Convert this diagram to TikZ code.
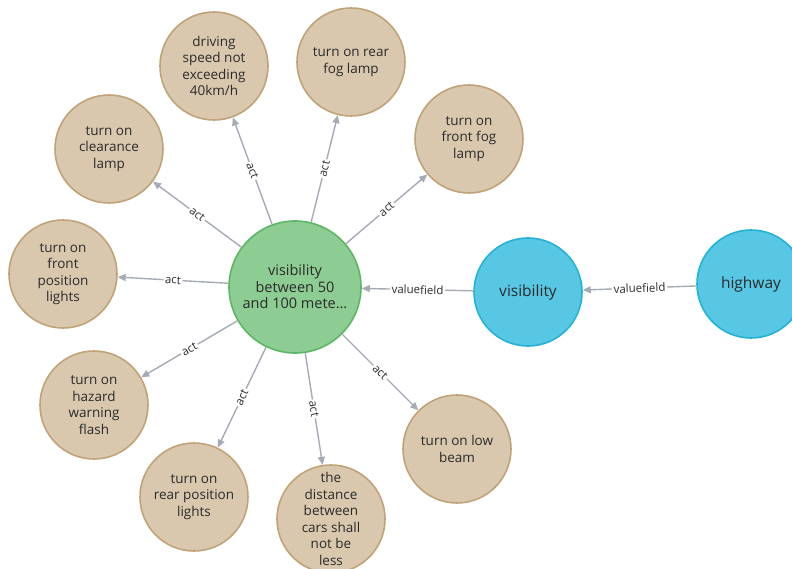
\documentclass[tikz,border=0pt]{standalone}
\usepackage{fontspec}
\setmainfont{Open Sans}
\usetikzlibrary{arrows.meta}
\definecolor{tanfill}{HTML}{D9C8AE}
\definecolor{tanline}{HTML}{C0A378}
\definecolor{greenfill}{HTML}{8DCC93}
\definecolor{greenline}{HTML}{5DB665}
\definecolor{bluefill}{HTML}{57C7E3}
\definecolor{blueline}{HTML}{23B3D7}
\definecolor{edgegray}{HTML}{A5ABB6}
\definecolor{txt}{HTML}{2B2B2B}
\begin{document}
\begin{tikzpicture}[x=1pt,y=-1pt,
  ent/.style={circle, draw=tanline, fill=tanfill, line width=1.6pt,
    minimum size=108pt, inner sep=-15pt, align=center, text=txt,
    font=\fontsize{13.5}{16.5}\selectfont},
  hub/.style={ent, draw=greenline, fill=greenfill, minimum size=132pt,
    font=\fontsize{14.5}{16.5}\selectfont},
  attr/.style={ent, draw=blueline, fill=bluefill,
    font=\fontsize{15.5}{18}\selectfont},
  rel/.style={draw=edgegray, line width=1.4pt,
    -{Triangle[length=8pt,width=7pt]}},
  rellabel/.style={midway, sloped, fill=white, inner sep=1.5pt, text=txt,
    font=\fontsize{11.5}{13}\selectfont}
]
\useasboundingbox (0,0) rectangle (792,569);
\clip (0,0) rectangle (792,569);

% central situation node
\node[hub] (vis50) at (295,287) {visibility\\between 50\\and 100 mete...};

% attribute chain
\node[attr] (visibility) at (528,292) {visibility};
\node[attr] (highway) at (751,284) {highway};

% actions
\node[ent] (speed) at (214,66) {driving\\speed not\\exceeding\\40km/h};
\node[ent] (rearfog) at (351,62) {turn on rear\\fog lamp};
\node[ent] (frontfog) at (469,139) {turn on\\front fog\\lamp};
\node[ent] (clearance) at (109,149) {turn on\\clearance\\lamp};
\node[ent] (frontpos) at (63,274) {turn on\\front\\position\\lights};
\node[ent] (hazard) at (94,405) {turn on\\hazard\\warning\\flash};
\node[ent] (rearpos) at (194,497) {turn on\\rear position\\lights};
\node[ent] (distance) at (331,519) {the\\distance\\between\\cars shall\\not be\\less};
\node[ent] (lowbeam) at (457,449) {turn on low\\beam};

% relations
\draw[rel] (highway) -- node[rellabel] {valuefield} (visibility);
\draw[rel] (visibility) -- node[rellabel] {valuefield} (vis50);
\foreach \t in {speed,rearfog,frontfog,clearance,frontpos,hazard,rearpos,distance,lowbeam}
  \draw[rel] (vis50) -- node[rellabel] {act} (\t);
\end{tikzpicture}
\end{document}
